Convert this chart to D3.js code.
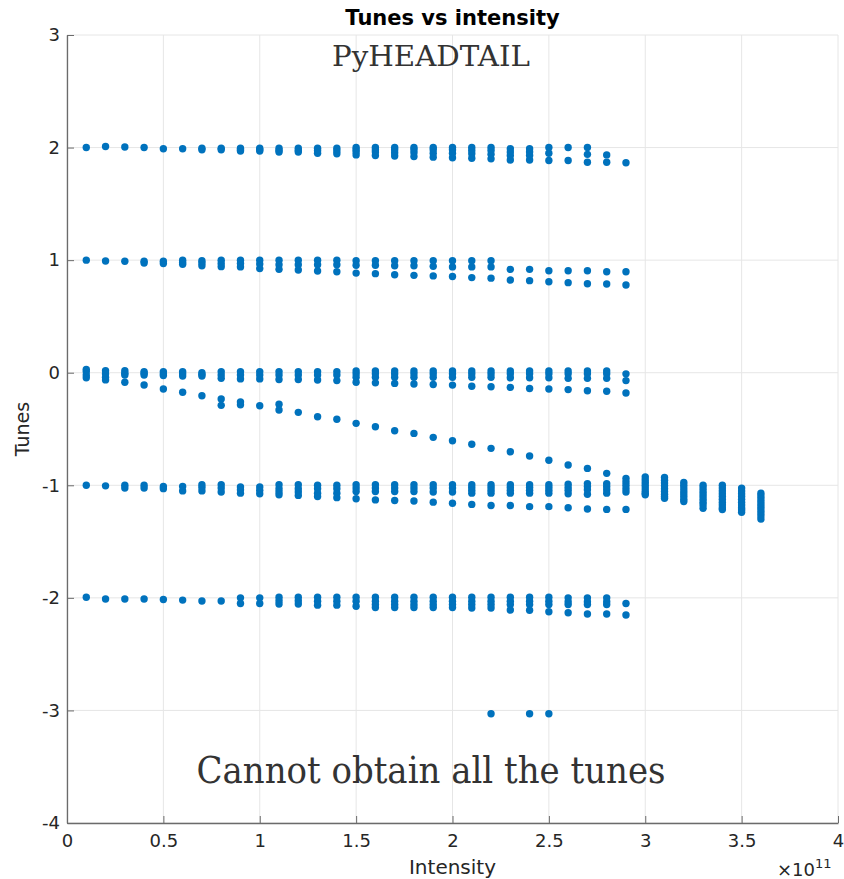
<!DOCTYPE html>
<html><head><meta charset="utf-8">
<script src="https://cdn.jsdelivr.net/npm/d3@7/dist/d3.min.js"></script>
<style>body{margin:0;background:#fff}</style>
</head><body>
<svg id="c" width="844" height="879"></svg>
<script>
// ---- data ----
const intensity = [0.1,0.2,0.3,0.4,0.5,0.6,0.7,0.8,0.9,1.0,1.1,1.2,1.3,1.4,1.5,1.6,1.7,1.8,1.9,2.0,2.1,2.2,2.3,2.4,2.5,2.6,2.7,2.8,2.9];
const band2 = [
 [2.0],[2.01],[2.005],[2.0],[1.99],[1.99],[1.995,1.98],[1.995,1.98],[1.995,1.98,1.97],[1.995,1.98,1.97],
 [1.995,1.975,1.96],[1.995,1.975,1.96],[1.995,1.975,1.95],[1.995,1.97,1.945],
 [2.0,1.98,1.96,1.935],[2.0,1.98,1.96,1.93],[2.0,1.98,1.955,1.925],[2.0,1.98,1.955,1.92],[2.0,1.98,1.95,1.915],
 [2.0,1.98,1.95,1.91],[2.0,1.975,1.945,1.905],[2.0,1.975,1.94,1.9],[1.99,1.96,1.93,1.89],[1.99,1.96,1.93,1.89],
 [2.0,1.95,1.885],[2.0,1.885],[2.0,1.94,1.87],[1.935,1.87],[1.865]
];
const band1 = [
 [1.0],[0.992],[0.99],[0.99,0.975],[0.99,0.97],[1.0,0.98,0.963],[0.995,0.975,0.95],[1.0,0.97,0.942],[1.0,0.97,0.94],[1.0,0.965,0.925],
 [1.0,0.96,0.918],[1.0,0.96,0.912],[1.0,0.96,0.903],[1.0,0.96,0.897],
 [0.995,0.955,0.885],[0.995,0.955,0.88],[0.995,0.95,0.87],[0.995,0.95,0.865],[0.995,0.945,0.86],
 [0.995,0.94,0.855],[0.995,0.94,0.845],[0.995,0.94,0.84],[0.918,0.823],[0.918,0.818],
 [0.906,0.808],[0.906,0.8],[0.906,0.79],[0.897,0.788],[0.897,0.779]
];
const band0 = [
 [0.03,0.01,-0.02,-0.045],[0.017,-0.01,-0.04,-0.064],[0.017,-0.005,-0.02],[0.01,-0.005,-0.02],[0.01,-0.01,-0.025],
 [0.01,-0.01,-0.03],[0.0,-0.015,-0.03],[0.01,-0.02,-0.05],[0.01,-0.02,-0.055],[0.01,-0.02,-0.055],
 [0.01,-0.02,-0.06],[0.01,-0.02,-0.06],[0.01,-0.02,-0.065],[0.01,-0.02,-0.07],
 [0.015,-0.01,-0.04,-0.085],[0.015,-0.01,-0.04,-0.09],[0.015,-0.01,-0.04,-0.095],[0.015,-0.01,-0.04,-0.1],[0.015,-0.01,-0.04,-0.105],
 [0.015,-0.01,-0.04,-0.11],[0.015,-0.01,-0.04,-0.12],[0.015,-0.01,-0.04,-0.125],[0.015,-0.01,-0.045,-0.13],[0.015,-0.01,-0.045,-0.14],
 [0.015,-0.01,-0.045,-0.145],[0.015,-0.01,-0.05,-0.15],[0.015,-0.01,-0.05,-0.16],[0.015,-0.01,-0.05,-0.165],[-0.01,-0.07,-0.18]
];
const bandM1 = [
 [-1.0],[-1.005],[-1.0,-1.025],[-1.0,-1.025],[-1.01,-1.03],[-1.01,-1.05],[-0.995,-1.02,-1.05],[-0.995,-1.025,-1.06],[-1.015,-1.04,-1.07],[-1.015,-1.045,-1.075],
 [-0.995,-1.03,-1.06,-1.085],[-0.995,-1.03,-1.06,-1.09],[-1.0,-1.03,-1.07,-1.1],[-1.0,-1.03,-1.07,-1.11],
 [-0.995,-1.025,-1.055,-1.12],[-0.995,-1.025,-1.055,-1.13],[-0.995,-1.025,-1.055,-1.135],[-0.995,-1.025,-1.055,-1.14],[-0.995,-1.025,-1.06,-1.15],
 [-0.995,-1.025,-1.06,-1.16],[-0.995,-1.02,-1.045,-1.07,-1.17],[-0.995,-1.02,-1.045,-1.07,-1.18],[-0.995,-1.02,-1.045,-1.07,-1.18],[-0.995,-1.02,-1.045,-1.07,-1.19],
 [-0.995,-1.02,-1.045,-1.07,-1.19],[-0.99,-1.02,-1.045,-1.075,-1.2],[-0.985,-1.01,-1.04,-1.08,-1.21],[-0.985,-1.01,-1.04,-1.07,-1.214],[-0.94,-0.97,-1.0,-1.03,-1.06,-1.214]
];
const bandM2 = [
 [-1.995],[-2.01],[-2.01],[-2.01],[-2.015],[-2.02],[-2.028],[-2.028],[-2.0,-2.05],[-2.0,-2.05],
 [-1.995,-2.025,-2.055],[-1.995,-2.025,-2.055],[-1.995,-2.03,-2.065],[-1.995,-2.03,-2.065],
 [-1.995,-2.03,-2.075],[-1.995,-2.03,-2.06,-2.085],[-1.995,-2.03,-2.06,-2.085],[-1.995,-2.03,-2.06,-2.085],[-1.995,-2.03,-2.06,-2.085],
 [-1.995,-2.03,-2.06,-2.085],[-1.995,-2.03,-2.06,-2.09],[-1.995,-2.03,-2.06,-2.09],[-1.995,-2.03,-2.06,-2.108],[-1.995,-2.03,-2.06,-2.11],
 [-1.995,-2.03,-2.06,-2.123],[-2.0,-2.035,-2.06,-2.132],[-2.0,-2.035,-2.06,-2.144],[-2.0,-2.035,-2.06,-2.144],[-2.05,-2.152]
];
// descending coupled mode
const modeIntensity = [0.3,0.4,0.5,0.6,0.7,0.8,0.9,1.0,1.1,1.2,1.3,1.4,1.5,1.6,1.7,1.8,1.9,2.0,2.1,2.2,2.3,2.4,2.5,2.6,2.7,2.8];
const modeTune = [
 [-0.085],[-0.109],[-0.145],[-0.174],[-0.204],[-0.234,-0.29],[-0.26,-0.285],[-0.293],[-0.28,-0.331],[-0.352],
 [-0.391],[-0.414],[-0.45],[-0.48],[-0.515],[-0.539],[-0.574],[-0.604],[-0.636],[-0.672],
 [-0.702],[-0.74],[-0.778],[-0.82],[-0.85],[-0.894]
];
// high-intensity merged columns
const highIntensity = [3.0,3.1,3.2,3.3,3.4,3.5,3.6];
const highTune = [
 [-0.925,-0.95,-0.975,-1.0,-1.025,-1.05,-1.07,-1.085],
 [-0.93,-0.955,-0.98,-1.005,-1.03,-1.055,-1.08,-1.1,-1.115],
 [-0.975,-1.0,-1.025,-1.05,-1.075,-1.1,-1.125,-1.145],
 [-1.0,-1.025,-1.05,-1.075,-1.1,-1.125,-1.15,-1.175,-1.205],
 [-1.0,-1.025,-1.05,-1.075,-1.1,-1.125,-1.15,-1.175,-1.2,-1.215],
 [-1.025,-1.05,-1.075,-1.1,-1.125,-1.15,-1.175,-1.2,-1.22,-1.24],
 [-1.07,-1.095,-1.12,-1.145,-1.17,-1.195,-1.22,-1.245,-1.27,-1.3]
];
const lowIntensity = [2.2,2.4,2.5];
const lowTune = [-3.03,-3.03,-3.03];
const xTicks = [0,0.5,1,1.5,2,2.5,3,3.5,4];
const yTicks = [-4,-3,-2,-1,0,1,2,3];

// ---- build points ----
const pts = [];
[band2, band1, band0, bandM1, bandM2].forEach(b => intensity.forEach((I,i) => b[i].forEach(t => pts.push([I,t]))));
modeIntensity.forEach((I,i) => modeTune[i].forEach(t => pts.push([I,t])));
highIntensity.forEach((I,i) => highTune[i].forEach(t => pts.push([I,t])));
lowIntensity.forEach((I,i) => pts.push([I, lowTune[i]]));

// ---- chart ----
const W = 844, H = 879;
const m = {l:67, t:35, r:6, b:56};
const svg = d3.select('#c');
const x = d3.scaleLinear().domain([0,4]).range([m.l, W-m.r]);
const y = d3.scaleLinear().domain([-4,3]).range([H-m.b, m.t]);
const font = "'DejaVu Sans', sans-serif";

// grid
svg.append('g').selectAll('line').data(xTicks).join('line')
  .attr('x1', d=>x(d)).attr('x2', d=>x(d)).attr('y1', y(-4)).attr('y2', y(3))
  .attr('stroke', '#e6e6e6').attr('stroke-width', 1);
svg.append('g').selectAll('line').data(yTicks).join('line')
  .attr('y1', d=>y(d)).attr('y2', d=>y(d)).attr('x1', x(0)).attr('x2', x(4))
  .attr('stroke', '#e6e6e6').attr('stroke-width', 1);

// points
svg.append('g').selectAll('circle').data(pts).join('circle')
  .attr('cx', d=>x(d[0])).attr('cy', d=>y(d[1])).attr('r', 3.7)
  .attr('fill', '#0072BD');

// axes (ticks pointing inward)
const xAxis = svg.append('g').attr('transform', `translate(0,${y(-4)})`)
  .call(d3.axisBottom(x).tickValues(xTicks).tickFormat(d=>String(d)).tickSizeInner(-7).tickSizeOuter(0).tickPadding(9));
const yAxis = svg.append('g').attr('transform', `translate(${x(0)},0)`)
  .call(d3.axisLeft(y).tickValues(yTicks).tickFormat(d=>String(d)).tickSizeInner(-7).tickSizeOuter(0).tickPadding(7));
[xAxis, yAxis].forEach(g => {
  g.select('.domain').attr('stroke', '#6b6b6b').attr('stroke-width', 1.3);
  g.selectAll('.tick line').attr('stroke', '#6b6b6b').attr('stroke-width', 1);
  g.selectAll('.tick text').attr('font-family', font).attr('font-size', 18).attr('fill', '#262626');
});
xAxis.selectAll('.tick text').attr('dy', '0.85em');

// labels
svg.append('text').attr('x', (x(0)+x(4))/2).attr('y', 25).attr('text-anchor','middle')
  .attr('font-family', font).attr('font-weight','bold').attr('font-size', 21).attr('fill','#000')
  .text('Tunes vs intensity');
svg.append('text').attr('x', (x(0)+x(4))/2).attr('y', 874).attr('text-anchor','middle')
  .attr('font-family', font).attr('font-size', 20).attr('fill','#262626').text('Intensity');
svg.append('text').attr('transform', `translate(29,${(y(-4)+y(3))/2}) rotate(-90)`).attr('text-anchor','middle')
  .attr('font-family', font).attr('font-size', 19).attr('fill','#262626').text('Tunes');
const exp = svg.append('text').attr('x', 777).attr('y', 876).attr('font-family', font).attr('font-size', 18).attr('fill','#262626');
exp.append('tspan').text('×10');
exp.append('tspan').attr('font-size', 13).attr('dy', -8).text('11');

// annotations
const serif = "'DejaVu Serif', 'Liberation Serif', serif";
svg.append('text').attr('x', 431).attr('y', 66).attr('text-anchor','middle')
  .attr('font-family', serif).attr('font-size', 27).attr('fill','#333')
  .attr('textLength', 198).attr('lengthAdjust','spacingAndGlyphs').text('PyHEADTAIL');
svg.append('text').attr('x', 431).attr('y', 783).attr('text-anchor','middle')
  .attr('font-family', serif).attr('font-size', 37).attr('fill','#333')
  .attr('textLength', 469).attr('lengthAdjust','spacingAndGlyphs').text('Cannot obtain all the tunes');
</script>
</body></html>
